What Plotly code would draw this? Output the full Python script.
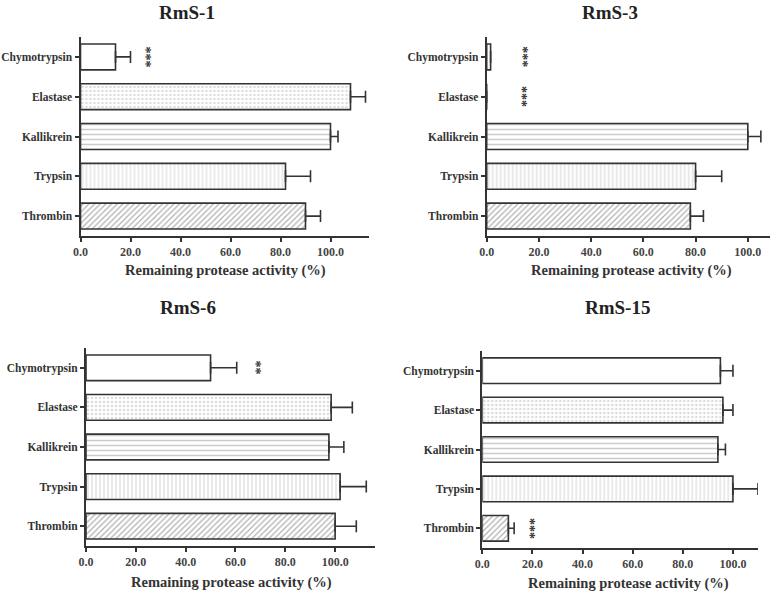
import plotly.graph_objects as go

categories = ["Chymotrypsin", "Elastase", "Kallikrein", "Trypsin", "Thrombin"]
panels = ["RmS-1", "RmS-3", "RmS-6", "RmS-15"]
x_title = "Remaining protease activity (%)"

rms1_mean = [14, 108, 100, 82, 90]
rms1_err = [6, 6, 3, 10, 6]
rms3_mean = [1.5, 0, 100, 80, 78]
rms3_err = [0, 0, 5, 10, 5]
rms6_mean = [50, 98.4, 97.5, 102, 100]
rms6_err = [10.5, 8.5, 6, 10.5, 8.5]
rms15_mean = [95, 96, 94, 100, 10.4]
rms15_err = [5, 4, 3, 10, 2.3]

# significance marks: (category, x position, text)
sig1 = [("Chymotrypsin", 26, "***")]
sig3 = [("Chymotrypsin", 13.4, "***"), ("Elastase", 13.4, "***")]
sig6 = [("Chymotrypsin", 68, "**")]
sig15 = [("Thrombin", 18.8, "***")]

x_ticks = [0, 20, 40, 60, 80, 100]

W, H = 778, 593
FONT = "Liberation Serif"
DARK = "#333333"

shapes_pat = ["", ".", "-", "|", "/"]
fg_pat = ["#ffffff", "#b8b8b8", "#9a9a9a", "#b8b8b8", "#606060"]
size_pat = [6, 4, 5, 4, 4]

# layout geometry (screen pixels): x_axis_start, x_axis_end, y_top, y_bottom, xmax
geo = [
    (80.5, 369, 37, 236, 115.4),
    (486.7, 770, 37, 236, 108.5),
    (86, 375, 348, 546, 116),
    (482.3, 758, 351, 548, 110),
]
titles_pos = [(187, 13), (610, 13), (188, 307), (617, 307)]
xtitle_pos = [(225, 270), (631, 270), (231, 582), (628, 583)]
means = [rms1_mean, rms3_mean, rms6_mean, rms15_mean]
errs = [rms1_err, rms3_err, rms6_err, rms15_err]
sigs = [sig1, sig3, sig6, sig15]


def px(v):
    return v / W


def py(v):
    return 1 - v / H


fig = go.Figure()
annotations = []
for i in range(4):
    xa = "x" if i == 0 else f"x{i+1}"
    ya = "y" if i == 0 else f"y{i+1}"
    fig.add_trace(go.Bar(
        x=means[i], y=categories, orientation="h",
        xaxis=xa, yaxis=ya, width=0.65,
        marker=dict(
            color="white",
            line=dict(color=DARK, width=1.6),
            pattern=dict(shape=shapes_pat, fgcolor=fg_pat, bgcolor="white",
                         size=size_pat, solidity=0.3),
        ),
        error_x=dict(type="data", array=errs[i], arrayminus=[0] * 5,
                     symmetric=False, color=DARK, thickness=1.6, width=6),
        showlegend=False, hoverinfo="skip",
    ))
    x0, x1, yt, yb, xmax = geo[i]
    axkey_x = "xaxis" if i == 0 else f"xaxis{i+1}"
    axkey_y = "yaxis" if i == 0 else f"yaxis{i+1}"
    fig.update_layout(**{
        axkey_x: dict(
            domain=[px(x0), px(x1)], anchor=ya, range=[0, xmax],
            tickvals=x_ticks,
            ticktext=[f"<b>{v:.1f}</b>" for v in x_ticks],
            showline=True, linecolor=DARK, linewidth=2,
            ticks="outside", ticklen=4, tickwidth=1.5, tickcolor=DARK,
            showgrid=False, zeroline=False, automargin=False,
            tickfont=dict(family=FONT, size=12, color="#444"),
            fixedrange=True,
        ),
        axkey_y: dict(
            domain=[py(yb), py(yt)], anchor=xa,
            categoryorder="array", categoryarray=categories,
            tickvals=categories,
            ticktext=[f"<b>{c}</b>" for c in categories],
            range=[4.5, -0.5],
            showline=True, linecolor=DARK, linewidth=2,
            ticks="outside", ticklen=4, tickwidth=1.5, tickcolor=DARK,
            showgrid=False, zeroline=False, automargin=False,
            tickfont=dict(family=FONT, size=11.5, color="#333"),
            fixedrange=True,
        ),
    })
    tx, ty = titles_pos[i]
    annotations.append(dict(
        text=f"<b>{panels[i]}</b>", x=px(tx), y=py(ty), xref="paper", yref="paper",
        showarrow=False, font=dict(family=FONT, size=19, color="#222"),
        xanchor="center", yanchor="middle"))
    ax_, ay_ = xtitle_pos[i]
    annotations.append(dict(
        text=f"<b>{x_title}</b>", x=px(ax_), y=py(ay_), xref="paper", yref="paper",
        showarrow=False, font=dict(family=FONT, size=14.5, color="#333"),
        xanchor="center", yanchor="middle"))
    for cat, xv, txt in sigs[i]:
        annotations.append(dict(
            text=f"<b>{txt}</b>", x=xv, y=cat, xref=xa, yref=ya,
            showarrow=False, textangle=90,
            font=dict(family=FONT, size=14, color="#333"),
            xanchor="center", yanchor="middle"))

fig.update_layout(
    width=W, height=H, margin=dict(l=0, r=0, t=0, b=0),
    paper_bgcolor="white", plot_bgcolor="white",
    annotations=annotations, bargap=0.35, hovermode=False,
)
fig.write_html("out.html", config={"displayModeBar": False},
               post_script="document.body.style.margin='0px';")
